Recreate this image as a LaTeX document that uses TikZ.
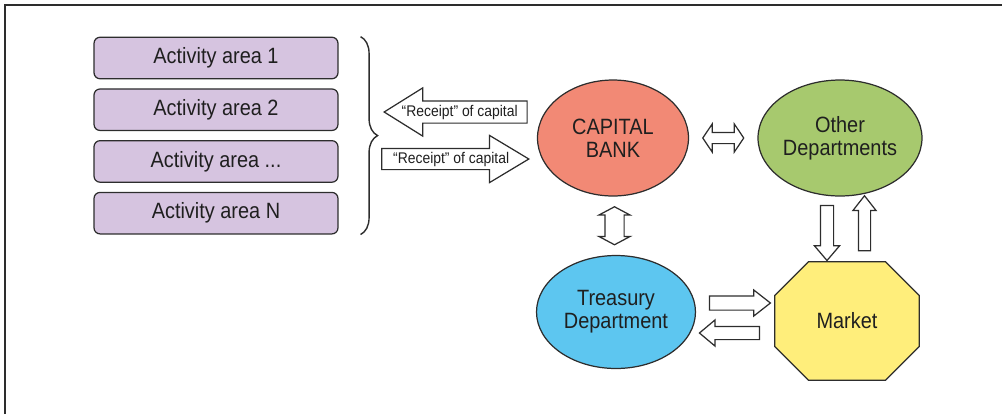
\documentclass[tikz,border=0pt]{standalone}
\usepackage{fontspec}
\setmainfont{Liberation Sans}[FakeStretch=0.9]
\usetikzlibrary{positioning,calc,shapes.geometric,shapes.arrows,backgrounds,decorations.pathreplacing}
\definecolor{linegray}{RGB}{45,45,45}
\definecolor{areafill}{RGB}{214,196,224}
\definecolor{bankfill}{RGB}{242,137,117}
\definecolor{otherfill}{RGB}{167,201,110}
\definecolor{treasfill}{RGB}{93,198,240}
\definecolor{marketfill}{RGB}{255,238,123}
\newcommand\mainsz{\fontsize{12.6}{13.1}\selectfont}
\newcommand\smallsz{\fontsize{8.8}{10}\selectfont}

\begin{document}
\begin{tikzpicture}[x=0.02cm,y=-0.02cm]
\tikzset{area/.style={draw=linegray, fill=areafill, rounded corners=0.12cm,
    minimum width=4.88cm, minimum height=0.83cm, line width=0.7pt, font=\mainsz},
  oval/.style={ellipse, draw=linegray, line width=0.7pt, align=center,
    inner sep=0pt, font=\mainsz},
  blk/.style={draw=linegray, fill=white, line width=0.7pt, inner sep=0pt,
    minimum width=1pt},
  sarr/.style={blk, single arrow},
  darr/.style={blk, double arrow},
  every node/.append style={text=black!88}}
\useasboundingbox (0,0) rectangle (1002,414);
\draw[linegray, line width=1.2pt] (5,414) -- (5,5) -- (1002,5);

\node[area] (a1) at (216,58) {Activity area 1};
\node[area, below=0.18cm of a1] (a2) {Activity area 2};
\node[area, below=0.18cm of a2] (a3) {Activity area ...};
\node[area, below=0.18cm of a3] (a4) {Activity area N};
\draw[linegray, line width=0.8pt, decorate, decoration={brace, amplitude=0.34cm}]
  ([xshift=0.44cm]a1.north east) -- ([xshift=0.44cm]a4.south east);

\node[oval, fill=bankfill, minimum width=3.02cm, minimum height=2.32cm] (bank)
  at (613,138) {CAPITAL\\BANK};
\node[oval, fill=otherfill, minimum width=3.28cm, minimum height=2.32cm] (other)
  at (840,138) {Other\\Departments};
\node[oval, fill=treasfill, minimum width=3.18cm, minimum height=2.26cm] (treas)
  at (616,312) {Treasury\\Department};
\node[font=\mainsz, inner sep=0pt, minimum width=2.88cm, minimum height=2.36cm]
  (market) at (847,321) {Market};
\begin{scope}[on background layer]
\draw[linegray, line width=0.7pt, fill=marketfill]
  ([xshift=0.68cm]market.north west) -- ([xshift=-0.68cm]market.north east)
  -- ([yshift=-0.68cm]market.north east) -- ([yshift=0.68cm]market.south east)
  -- ([xshift=-0.68cm]market.south east) -- ([xshift=0.68cm]market.south west)
  -- ([yshift=0.68cm]market.south west) -- ([yshift=-0.68cm]market.north west)
  -- cycle;
\end{scope}

\node[sarr, shape border rotate=180, single arrow head extend=0.26cm,
  single arrow tip angle=64, minimum height=2.86cm, inner ysep=0.21cm,
  anchor=tip] (recin) at (383,112) {};
\node[font=\smallsz] (recinlbl) at ($(recin.tail)!0.47!(recin.tip)$)
  {``Receipt'' of capital};
\node[sarr, single arrow head extend=0.26cm, single arrow tip angle=62,
  minimum height=2.94cm, inner ysep=0.2cm, anchor=tip] (recout) at (530,159) {};
\node[font=\smallsz] (recoutlbl) at ($(recout.tail)!0.47!(recout.tip)$)
  {``Receipt'' of capital};

\node[darr, double arrow head extend=0.17cm, double arrow tip angle=112,
  minimum height=0.82cm, inner ysep=0.1cm] (bankother)
  at ($(bank.east)!0.5!(other.west)$) {};
\node[darr, shape border rotate=90, double arrow head extend=0.12cm,
  double arrow tip angle=124, minimum height=0.76cm, inner xsep=0.18cm]
  (banktreas) at ($(bank.south)!0.5!(treas.north)$) {};
\node[sarr, shape border rotate=270, single arrow head extend=0.12cm,
  single arrow tip angle=81, minimum height=1.1cm, inner xsep=0.12cm]
  (othermkt) at ($(other.south)!0.5!(market.north)+(-16.5,0)$) {};
\node[sarr, shape border rotate=90, single arrow head extend=0.11cm,
  single arrow tip angle=76, minimum height=1.1cm, inner xsep=0.11cm]
  (mktother) at ($(other.south)!0.5!(market.north)+(21,-2)$) {};
\node[sarr, single arrow head extend=0.12cm, single arrow tip angle=76,
  minimum height=1.22cm, inner ysep=0.13cm] (treasmkt)
  at ($(treas.east)!0.5!(market.west)+(0,-13.5)$) {};
\node[sarr, shape border rotate=180, single arrow head extend=0.13cm,
  single arrow tip angle=80, minimum height=1.2cm, inner ysep=0.12cm]
  (mkttreas) at ($(treas.east)!0.5!(market.west)+(-2,16.5)$) {};
\end{tikzpicture}
\end{document}
